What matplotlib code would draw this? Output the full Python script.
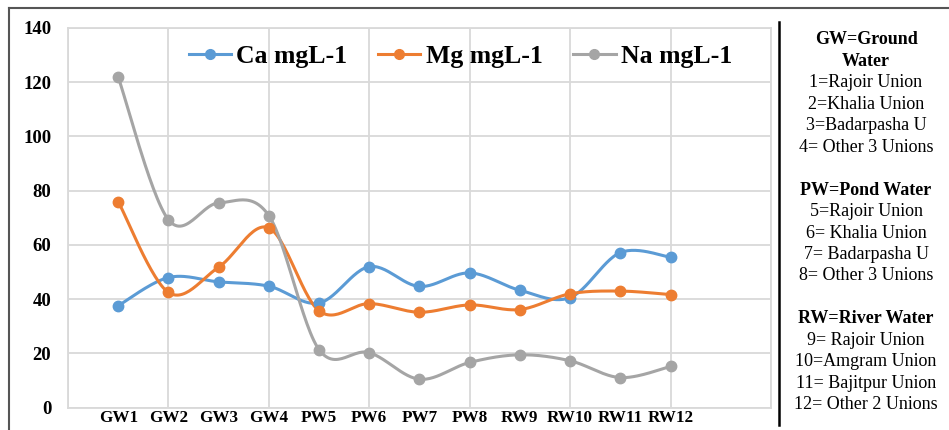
import numpy as np
import matplotlib
matplotlib.use("Agg")
import matplotlib.pyplot as plt
from matplotlib.lines import Line2D

categories = ["GW1", "GW2", "GW3", "GW4", "PW5", "PW6", "PW7", "PW8",
              "RW9", "RW10", "RW11", "RW12"]
ca = [37.6, 48.0, 46.4, 44.8, 38.6, 52.0, 44.7, 49.7, 43.3, 40.6, 57.2, 55.5]
mg = [76.0, 42.5, 51.8, 66.3, 35.7, 38.4, 35.2, 37.9, 36.2, 42.0, 43.0, 41.7]
na = [121.9, 69.3, 75.5, 70.8, 21.4, 20.3, 10.5, 16.7, 19.5, 17.3, 11.1, 15.2]
series_names = ["Ca mgL-1", "Mg mgL-1", "Na mgL-1"]
colors = ["#5B9BD5", "#ED7D31", "#A5A5A5"]
yticks = [0, 20, 40, 60, 80, 100, 120, 140]

side_lines = [
    ("GW=Ground", True), ("Water", True),
    ("1=Rajoir Union", False), ("2=Khalia Union", False),
    ("3=Badarpasha U", False), ("4= Other 3 Unions", False),
    ("", False),
    ("PW=Pond Water", True),
    ("5=Rajoir Union", False), ("6= Khalia Union", False),
    ("7= Badarpasha U", False), ("8= Other 3 Unions", False),
    ("", False),
    ("RW=River Water", True),
    ("9= Rajoir Union", False), ("10=Amgram Union", False),
    ("11= Bajitpur Union", False), ("12= Other 2 Unions", False),
]

SERIF = ["Liberation Serif", "DejaVu Serif"]


def smooth(xs, ys, n=30):
    """Excel-like smoothed line: cubic Bezier with Catmull-Rom tangents."""
    xs = np.asarray(xs, float)
    ys = np.asarray(ys, float)
    px, py = [], []
    m = len(xs)
    for i in range(m - 1):
        p0 = np.array([xs[max(i - 1, 0)], ys[max(i - 1, 0)]])
        p1 = np.array([xs[i], ys[i]])
        p2 = np.array([xs[i + 1], ys[i + 1]])
        p3 = np.array([xs[min(i + 2, m - 1)], ys[min(i + 2, m - 1)]])
        c1 = p1 + (p2 - p0) / 6.0
        c2 = p2 - (p3 - p1) / 6.0
        t = np.linspace(0, 1, n)[:, None]
        pts = ((1 - t) ** 3) * p1 + 3 * ((1 - t) ** 2) * t * c1 + \
            3 * (1 - t) * t ** 2 * c2 + t ** 3 * p2
        px.extend(pts[:, 0])
        py.extend(pts[:, 1])
    return np.array(px), np.array(py)


W, H = 949, 430
fig = plt.figure(figsize=(W / 100, H / 100), dpi=100)
fig.patch.set_facecolor("white")

ax = fig.add_axes([68 / W, (H - 407.7) / H, (771 - 68) / W, (407.7 - 28) / H])
x = np.arange(1, len(categories) + 1)

grid_c = "#D9D9D9"
ax.set_xlim(0, 14)
ax.set_ylim(0, 140)
ax.set_yticks(yticks)
ax.set_xticks(x)
ax.set_xticklabels(categories)
ax.grid(False)
for yv in yticks:
    ax.axhline(yv, color=grid_c, lw=1.3, zorder=0)
for xv in np.arange(0, 15, 2):
    ax.axvline(xv, color=grid_c, lw=1.3, zorder=0)
for s in ax.spines.values():
    s.set_color(grid_c)
    s.set_linewidth(1.3)
ax.tick_params(axis="both", which="both", length=0)
ax.tick_params(axis="y", pad=12)
ax.tick_params(axis="x", pad=2)
for lab in ax.get_yticklabels():
    lab.set_fontfamily(SERIF)
    lab.set_fontweight("bold")
    lab.set_fontsize(13.5)
for lab in ax.get_xticklabels():
    lab.set_fontfamily(SERIF)
    lab.set_fontweight("bold")
    lab.set_fontsize(12.3)

for vals, c, name in zip([ca, mg, na], colors, series_names):
    sx, sy = smooth(x, vals)
    ax.plot(sx, sy, color=c, lw=2.2, zorder=3, solid_capstyle="round")
    ax.plot(x, vals, "o", color=c, ms=7.5, zorder=4)

handles = [Line2D([0], [0], color=c, lw=2.2, marker="o", ms=7)
           for c in colors]
leg = ax.legend(handles, series_names, loc="center", ncol=3,
                bbox_to_anchor=(0.558, 0.926), frameon=False,
                prop={"family": SERIF, "weight": "bold", "size": 18.5},
                handlelength=1.65, handletextpad=0.2, columnspacing=1.2)

# outer frame lines
fig.add_artist(Line2D([9 / W, 1.0], [1 - 8 / H, 1 - 8 / H],
                      color="#555555", lw=1.5, transform=fig.transFigure))
fig.add_artist(Line2D([9 / W, 9 / W], [0, 1 - 8 / H],
                      color="#555555", lw=1.5, transform=fig.transFigure))
fig.add_artist(Line2D([779 / W, 779 / W], [1 - 425 / H, 1 - 22 / H],
                      color="black", lw=1.8, transform=fig.transFigure))

# side notes
y0 = 40
dy = 21.45
for i, (txt, bold) in enumerate(side_lines):
    if not txt:
        continue
    fig.text(866 / W, 1 - (y0 + i * dy) / H, txt, ha="center", va="center",
             fontfamily=SERIF, fontweight="bold" if bold else "normal",
             fontsize=13)

fig.savefig("out.png", dpi=100, facecolor="white")
